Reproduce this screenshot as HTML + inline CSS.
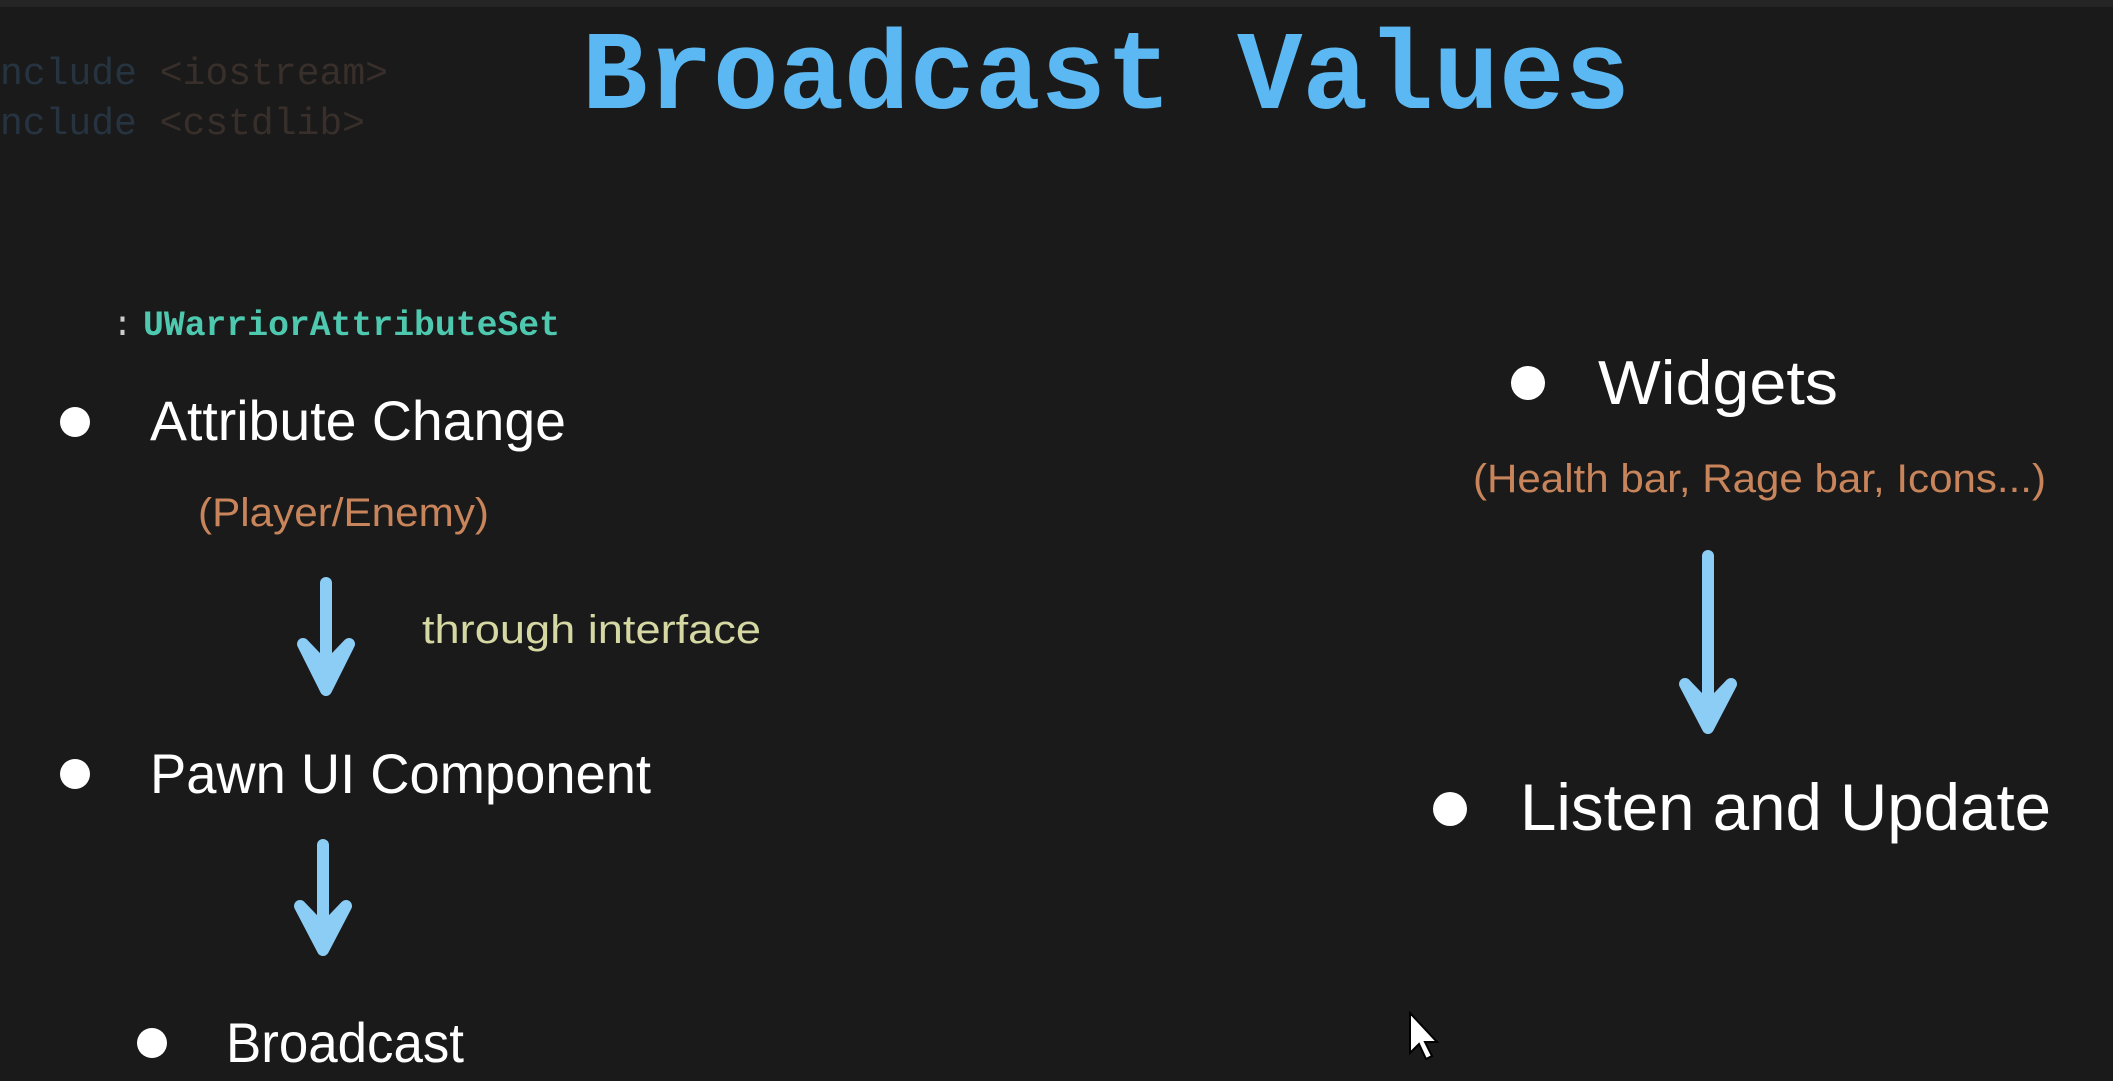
<!DOCTYPE html>
<html><head><meta charset="utf-8"><style>
html,body{margin:0;padding:0;background:#1a1a1a;overflow:hidden}
svg{display:block}
</style></head><body>
<svg width="2113" height="1081" viewBox="0 0 2113 1081" xmlns="http://www.w3.org/2000/svg">
<rect width="2113" height="1081" fill="#1a1a1a"/>
<rect width="2113" height="7" fill="#252525"/>
<g font-family="Liberation Mono, monospace" font-size="38">
<text x="0" y="84" textLength="388" lengthAdjust="spacingAndGlyphs"><tspan fill="#263340">nclude</tspan><tspan fill="#382f2b"> &lt;iostream&gt;</tspan></text>
<text x="0" y="134" textLength="365" lengthAdjust="spacingAndGlyphs"><tspan fill="#263340">nclude</tspan><tspan fill="#382f2b"> &lt;cstdlib&gt;</tspan></text>
</g>
<text x="582" y="108" font-family="Liberation Mono, monospace" font-weight="bold" font-size="112" fill="#5bb8f2" textLength="1048" lengthAdjust="spacingAndGlyphs">Broadcast Values</text>
<text x="112" y="335" font-family="Liberation Mono, monospace" font-size="35" fill="#cccccc">:</text>
<text x="143" y="335" font-family="Liberation Mono, monospace" font-weight="bold" font-size="35" fill="#4ec9b0" textLength="417" lengthAdjust="spacingAndGlyphs">UWarriorAttributeSet</text>
<g fill="#ffffff">
<circle cx="75" cy="422" r="15"/>
<circle cx="75" cy="774" r="15"/>
<circle cx="152" cy="1043" r="15"/>
<circle cx="1528" cy="383" r="17"/>
<circle cx="1450" cy="809" r="17"/>
</g>
<g font-family="Liberation Sans, sans-serif" fill="#ffffff">
<text x="150" y="440" font-size="56" textLength="416" lengthAdjust="spacingAndGlyphs">Attribute Change</text>
<text x="150" y="793" font-size="56" textLength="501" lengthAdjust="spacingAndGlyphs">Pawn UI Component</text>
<text x="226" y="1062" font-size="56" textLength="238" lengthAdjust="spacingAndGlyphs">Broadcast</text>
<text x="1598" y="404" font-size="62" textLength="240" lengthAdjust="spacingAndGlyphs">Widgets</text>
<text x="1520" y="830" font-size="66" textLength="531" lengthAdjust="spacingAndGlyphs">Listen and Update</text>
</g>
<g font-family="Liberation Sans, sans-serif" font-size="40">
<text x="198" y="526" fill="#c8845a" textLength="291" lengthAdjust="spacingAndGlyphs">(Player/Enemy)</text>
<text x="422" y="643" fill="#d5d8a2" textLength="339" lengthAdjust="spacingAndGlyphs">through interface</text>
<text x="1473" y="492" fill="#c8845a" textLength="573" lengthAdjust="spacingAndGlyphs">(Health bar, Rage bar, Icons...)</text>
</g>
<g fill="#8ccdf6" stroke="#8ccdf6" stroke-width="12" stroke-linejoin="round" stroke-linecap="round">
<path d="M326 583 V670"/>
<path d="M303 644 L326 690 L349 644 L326 668 Z"/>
<path d="M323 845 V932"/>
<path d="M300 906 L323 950 L346 906 L323 930 Z"/>
<path d="M1708 556 V710"/>
<path d="M1685 684 L1708 728 L1731 684 L1708 708 Z"/>
</g>
<path d="M1410 1013 L1410 1053 L1419 1044 L1426 1059 L1432 1056 L1425 1042 L1437 1042 Z" fill="#ffffff" stroke="#000" stroke-width="2"/>
</svg>
</body></html>
